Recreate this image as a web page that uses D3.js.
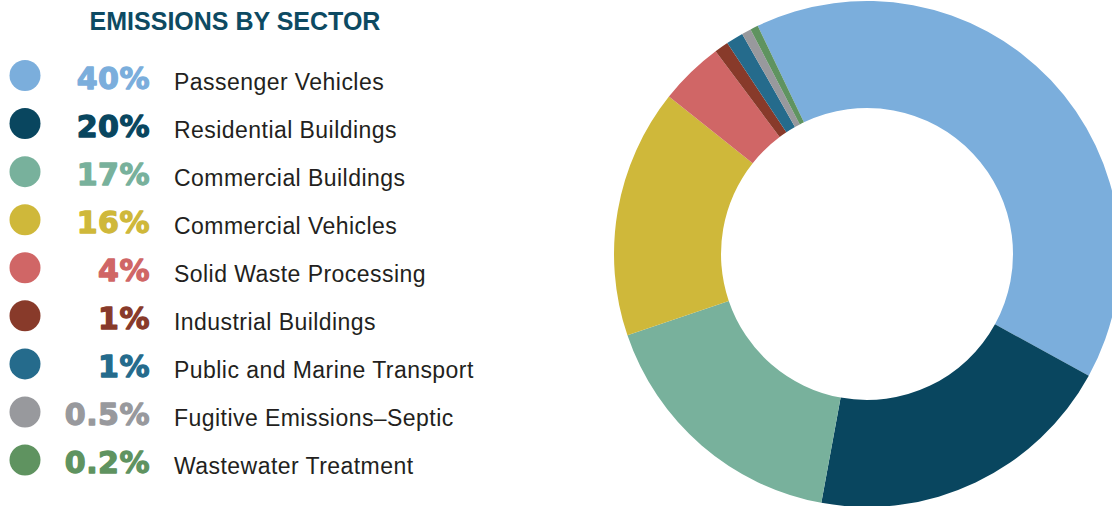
<!DOCTYPE html>
<html>
<head>
<meta charset="utf-8">
<script src="https://cdn.jsdelivr.net/npm/d3@7"></script>
<style>
  html, body { margin: 0; padding: 0; background: #ffffff; }
  svg { display: block; }
</style>
</head>
<body>
<svg id="chart" width="1112" height="506"></svg>
<script>
// ---- data ----
const sectors = [
  "Passenger Vehicles",
  "Residential Buildings",
  "Commercial Buildings",
  "Commercial Vehicles",
  "Solid Waste Processing",
  "Industrial Buildings",
  "Public and Marine Transport",
  "Fugitive Emissions\u2013Septic",
  "Wastewater Treatment"
];
// slice shares as read from the donut
const shares = [40.1, 19.9, 16.9, 15.9, 4.1, 0.9, 1.1, 0.6, 0.5];
// legend percentage labels as printed
const percentLabels = ["40%", "20%", "17%", "16%", "4%", "1%", "1%", "0.5%", "0.2%"];
const colors = ["#7baedc", "#09465f", "#78b19c", "#cfb83a", "#d06666", "#883a2a", "#256b8c", "#98999d", "#5f9360"];
const title = "EMISSIONS BY SECTOR";

// ---- layout ----
const svg = d3.select("#chart");
const cx = 867, cy = 254, outerR = 253, innerR = 146;
const start = -25.6 * Math.PI / 180;

const pie = d3.pie().sort(null).value(d => d.v)
  .startAngle(start).endAngle(start + 2 * Math.PI);
const arc = d3.arc().innerRadius(innerR).outerRadius(outerR);
const data = shares.map((v, i) => ({ v, i }));

svg.append("g")
  .attr("transform", `translate(${cx},${cy})`)
  .selectAll("path")
  .data(pie(data))
  .join("path")
  .attr("d", arc)
  .attr("fill", d => colors[d.data.i]);

// title
svg.append("text")
  .attr("x", 235).attr("y", 30)
  .attr("text-anchor", "middle")
  .attr("font-family", "'Liberation Sans', Arial, sans-serif")
  .attr("font-weight", "bold")
  .attr("font-size", 25)
  .attr("fill", "#0d4a62")
  .text(title);

// legend
const rowY = d3.scalePoint().domain(d3.range(sectors.length)).range([75.5, 460]);
const lg = svg.append("g");
const rows = lg.selectAll("g").data(sectors).join("g")
  .attr("transform", (d, i) => `translate(0,${rowY(i)})`);

rows.append("circle")
  .attr("cx", 25).attr("cy", 0).attr("r", 15.5)
  .attr("fill", (d, i) => colors[i]);

rows.append("text")
  .attr("x", 150).attr("y", 13)
  .attr("text-anchor", "end")
  .attr("font-family", "'DejaVu Sans', sans-serif")
  .attr("font-weight", "bold")
  .attr("font-size", 30)
  .attr("letter-spacing", 0.5)
  .attr("fill", (d, i) => colors[i])
  .attr("stroke", (d, i) => colors[i])
  .attr("stroke-width", 1.3)
  .attr("stroke-linejoin", "round")
  .text((d, i) => percentLabels[i]);

rows.append("text")
  .attr("x", 174).attr("y", 14)
  .attr("font-family", "'Liberation Sans', Arial, sans-serif")
  .attr("font-size", 23)
  .attr("letter-spacing", 0.45)
  .attr("fill", "#231f20")
  .text(d => d);
</script>
</body>
</html>
